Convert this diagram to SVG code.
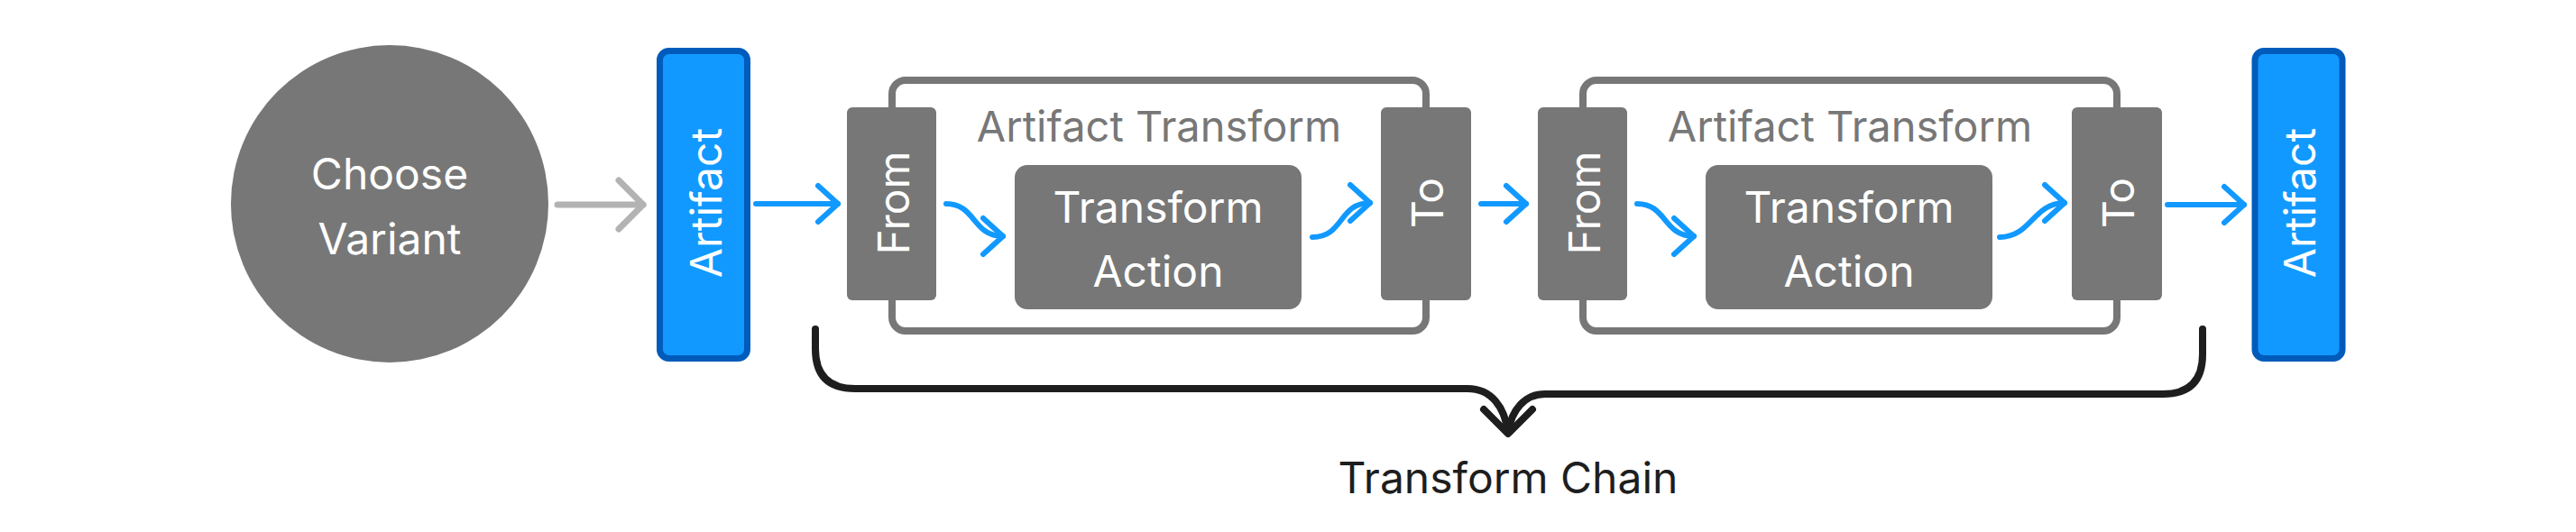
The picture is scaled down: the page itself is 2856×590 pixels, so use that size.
<svg xmlns="http://www.w3.org/2000/svg" width="2856" height="590" viewBox="0 0 2856 590">
<style>
  .node{fill:#777777}
  .wt{fill:#ffffff;font-family:Inter,"Liberation Sans",sans-serif;font-size:48px;text-anchor:middle}
  .art{fill:#1199ff;stroke:#005bbb;stroke-width:7}
  .cont{fill:none;stroke:#777777;stroke-width:8}
  .hdr{fill:#777777;font-family:Inter,"Liberation Sans",sans-serif;font-size:47px;text-anchor:middle}
  .blue{fill:none;stroke:#1199ff;stroke-width:6;stroke-linecap:round;stroke-linejoin:round}
  .gray{fill:none;stroke:#b3b3b3;stroke-width:7;stroke-linecap:round;stroke-linejoin:round}
  .brace{fill:none;stroke:#1e1e1e;stroke-width:8;stroke-linecap:round;stroke-linejoin:round}
  .lbl{fill:#1e1e1e;font-family:Inter,"Liberation Sans",sans-serif;font-size:48px;text-anchor:middle}
</style>
<defs>
  <marker id="ab" markerUnits="userSpaceOnUse" viewBox="-30 -30 40 60" markerWidth="40" markerHeight="60" refX="0" refY="0" orient="auto">
    <path d="M-22,-20 L0,0 L-22,20" fill="none" stroke="#1199ff" stroke-width="6" stroke-linecap="round" stroke-linejoin="round"/>
  </marker>
  <marker id="ag" markerUnits="userSpaceOnUse" viewBox="-36 -36 46 72" markerWidth="46" markerHeight="72" refX="0" refY="0" orient="auto">
    <path d="M-27,-27 L0,0 L-27,27" fill="none" stroke="#b3b3b3" stroke-width="7" stroke-linecap="round" stroke-linejoin="round"/>
  </marker>
</defs>

<g id="choose-variant">
  <circle class="node" cx="432" cy="226" r="176"/>
  <text class="wt" x="432" y="210">Choose</text>
  <text class="wt" x="432" y="282">Variant</text>
</g>

<g id="artifact-in">
  <rect class="art" x="731.5" y="56.5" width="97" height="341" rx="10"/>
  <text class="wt" transform="translate(800,225) rotate(-90)">Artifact</text>
</g>

<g id="transform-1">
  <rect class="cont" x="989" y="89" width="592" height="278" rx="15"/>
  <text class="hdr" x="1285" y="157">Artifact Transform</text>
  <g id="from-1">
    <rect class="node" x="939" y="119" width="99" height="214" rx="6"/>
    <text class="wt" transform="translate(1008,225) rotate(-90)">From</text>
  </g>
  <g id="action-1">
    <rect class="node" x="1125" y="183" width="318" height="160" rx="14"/>
    <text class="wt" x="1284" y="247">Transform</text>
    <text class="wt" x="1284" y="318">Action</text>
  </g>
  <g id="to-1">
    <rect class="node" x="1531" y="119" width="100" height="214" rx="6"/>
    <text class="wt" transform="translate(1600,225) rotate(-90)">To</text>
  </g>
</g>

<g id="transform-2">
  <rect class="cont" x="1755" y="89" width="592" height="278" rx="15"/>
  <text class="hdr" x="2051" y="157">Artifact Transform</text>
  <g id="from-2">
    <rect class="node" x="1705" y="119" width="99" height="214" rx="6"/>
    <text class="wt" transform="translate(1774,225) rotate(-90)">From</text>
  </g>
  <g id="action-2">
    <rect class="node" x="1891" y="183" width="318" height="160" rx="14"/>
    <text class="wt" x="2050" y="247">Transform</text>
    <text class="wt" x="2050" y="318">Action</text>
  </g>
  <g id="to-2">
    <rect class="node" x="2297" y="119" width="100" height="214" rx="6"/>
    <text class="wt" transform="translate(2366,225) rotate(-90)">To</text>
  </g>
</g>

<g id="artifact-out">
  <rect class="art" x="2500" y="56.5" width="97" height="341" rx="10"/>
  <text class="wt" transform="translate(2567,225) rotate(-90)">Artifact</text>
</g>

<g id="connectors">
  <path class="gray" d="M618,227 L713,227" marker-end="url(#ag)"/>
  <path class="blue" d="M838,226 L929,226" marker-end="url(#ab)"/>
  <path class="blue" d="M1049,226 C1082,226 1078,262 1112,262" marker-end="url(#ab)"/>
  <path class="blue" d="M1455,263 C1490,263 1484,225 1519,225" marker-end="url(#ab)"/>
  <path class="blue" d="M1642,226 L1692,226" marker-end="url(#ab)"/>
  <path class="blue" d="M1815,226 C1848,226 1844,262 1878,262" marker-end="url(#ab)"/>
  <path class="blue" d="M2217,263 C2252,263 2254,225 2289,225" marker-end="url(#ab)"/>
  <path class="blue" d="M2403,227 L2488,227" marker-end="url(#ab)"/>
  <path class="brace" d="M904,365 L904,387 Q904,431 948,431 L1627,431 C1654,431 1668,452 1672,479"/>
  <path class="brace" d="M2442,365 L2442,393 Q2442,437 2398,437 L1713,437 C1690,437 1676,455 1672,479"/>
  <path class="brace" d="M1645,454 L1672,481 L1699,454"/>
</g>

<g id="transform-chain-label">
  <text class="lbl" x="1672" y="547">Transform Chain</text>
</g>
</svg>
